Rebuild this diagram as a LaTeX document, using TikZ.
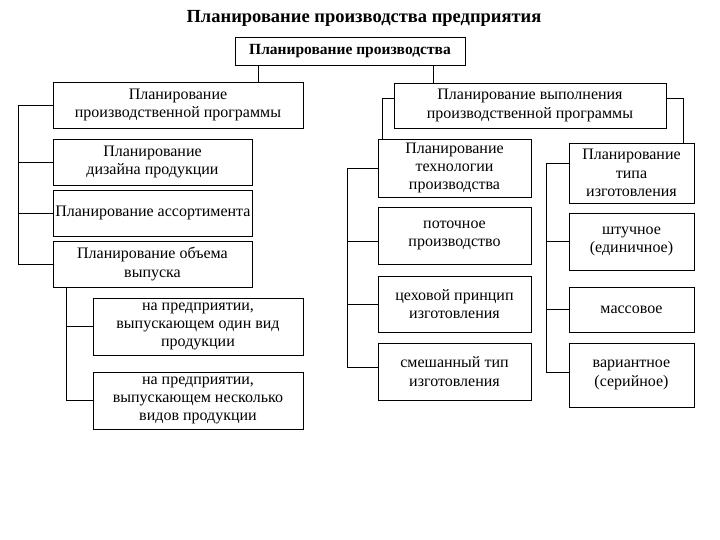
\documentclass[tikz,border=0pt]{standalone}
\usepackage{fontspec}
\setmainfont{Liberation Serif}
\begin{document}
\begin{tikzpicture}[x=1pt,y=-1pt,
	boks/.style={draw,line width=0.8pt,align=center,inner sep=0pt,font=\fontsize{16}{18.3}\selectfont},
	linje/.style={line width=0.8pt}]
  %ramme
	\useasboundingbox (0,0) rectangle (720,540);
  %tittel
	\node[font=\bfseries\fontsize{18.5}{20}\selectfont] (tittel) at (364,18) {Планирование производства предприятия};
	\node[boks,font=\bfseries\fontsize{15.5}{18}\selectfont,minimum width=230,minimum height=28] (plan) at (350,51) {Планирование производства};

  %venstre gren
	\node[boks,minimum width=250,minimum height=46] (programma) at (178,105) {Планирование\\производственной программы};
	\node[boks,minimum width=199,minimum height=46] (dizajn) at (152.5,162) {Планирование\\дизайна продукции};
	\node[boks,minimum width=199,minimum height=46,align=left,anchor=west] (assortiment) at (53,213) {Планирование ассортимента};
	\node[boks,minimum width=199,minimum height=46] (obem) at (152.5,264) {Планирование объема\\выпуска};
	\node[boks,minimum width=210,minimum height=57] (odin) at (198,326.5) {на предприятии,\\выпускающем один вид\\продукции};
	\node[boks,minimum width=210,minimum height=57] (neskolko) at (198,400.5) {на предприятии,\\выпускающем несколько\\видов продукции};

  %høyre gren
	\node[boks,minimum width=272,minimum height=45] (vypolnenie) at (530,105.5) {Планирование выполнения\\производственной программы};
	\node[boks,minimum width=153,minimum height=58] (tehnologija) at (454.5,168) {Планирование\\технологии\\производства};
	\node[boks,minimum width=153,minimum height=57] (potok) at (454.5,235.5) {поточное\\производство};
	\node[boks,minimum width=153,minimum height=56] (ceh) at (454.5,304) {цеховой принцип\\изготовления};
	\node[boks,minimum width=153,minimum height=57] (smesh) at (454.5,371.5) {смешанный тип\\изготовления};
	\node[boks,minimum width=125,minimum height=60] (tip) at (631.5,173) {Планирование\\типа\\изготовления};
	\node[boks,minimum width=125,minimum height=57] (shtuch) at (631.5,241.5) {штучное\\(единичное)};
	\node[boks,minimum width=125,minimum height=45] (massov) at (631.5,309.5) {массовое};
	\node[boks,minimum width=125,minimum height=64] (variant) at (631.5,375) {вариантное\\(серийное)};

  %forbindelser fra toppen
	\coordinate (planV) at ([xshift=-92pt]plan.south);
	\coordinate (planH) at ([xshift=83pt]plan.south);
	\draw[linje] (planV) -- (planV |- programma.north);
	\draw[linje] (planH) -- (planH |- vypolnenie.north);

  %venstre ryggrad
	\draw[linje] (programma.west) -- ++(-34,0) |- (obem.west);
	\draw[linje] (dizajn.west) -- ++(-34,0);
	\draw[linje] (assortiment.west) -- ++(-34,0);
	\draw[linje] ([xshift=14pt]obem.south west) |- (neskolko.west);
	\draw[linje] (odin.west) -- ++(-26,0);

  %høyre ryggrader
	\draw[linje] ([yshift=7.5pt]vypolnenie.west) -| ([xshift=5pt]tehnologija.north west);
	\draw[linje] ([yshift=7.5pt]vypolnenie.east) -| ([xshift=-11pt]tip.north east);
	\draw[linje] (tehnologija.west) -- ++(-30,0) |- ([yshift=4pt]smesh.west);
	\draw[linje] ([yshift=-6pt]potok.west) -- ++(-30,0);
	\draw[linje] (ceh.west) -- ++(-30,0);
	\draw[linje] ([yshift=10pt]tip.west) -- ++(-22,0) |- ([yshift=3pt]variant.west);
	\draw[linje] (shtuch.west) -- ++(-22,0);
	\draw[linje] (massov.west) -- ++(-22,0);
\end{tikzpicture}
\end{document}
